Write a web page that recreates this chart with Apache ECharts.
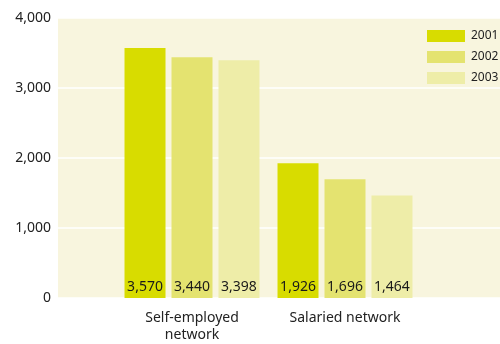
<!DOCTYPE html>
<html>
<head>
<meta charset="utf-8">
<script src="https://cdn.jsdelivr.net/npm/echarts@6/dist/echarts.min.js"></script>
<style>
  html, body { margin: 0; padding: 0; background: #ffffff; }
  #chart { width: 500px; height: 344px; }
</style>
</head>
<body>
<div id="chart"></div>
<script>
// Network members by type, 2001–2003
const categories = ['Self-employed\nnetwork', 'Salaried network'];
const years = ['2001', '2002', '2003'];
const values2001 = [3570, 1926];
const values2002 = [3440, 1696];
const values2003 = [3398, 1464];
const yTicks = [0, 1000, 2000, 3000, 4000];

const colors = ['#d8dc00', '#e4e370', '#eeeda8'];
const font = '"Noto Sans", sans-serif';
const fmt = v => v.toLocaleString('en-US');

const chart = echarts.init(document.getElementById('chart'), null, { renderer: 'canvas' });

const seriesData = [values2001, values2002, values2003];

chart.setOption({
  animation: false,
  textStyle: { fontFamily: font },
  legend: {
    data: years,
    left: 427,
    top: 30,
    padding: 0,
    orient: 'vertical',
    itemWidth: 38,
    itemHeight: 12,
    itemGap: 9,
    icon: 'rect',
    textStyle: { fontSize: 12, color: '#222', fontFamily: font, padding: [0, 0, 0, 1], overflow: 'none' }
  },
  grid: [
    { left: 58, right: 0, top: 18, bottom: 46, show: true, backgroundColor: '#f8f5de', borderWidth: 0 },
    { left: 115.5, right: 78.5, top: 18, bottom: 46 }
  ],
  xAxis: [
    { gridIndex: 0, type: 'value', show: false, min: 0, max: 1 },
    {
      gridIndex: 1, type: 'category', data: categories,
      axisLine: { show: false }, axisTick: { show: false },
      axisLabel: { fontSize: 14, color: '#222', fontFamily: font, margin: 12, lineHeight: 17 }
    }
  ],
  yAxis: [
    {
      gridIndex: 0, type: 'value', min: yTicks[0], max: yTicks[yTicks.length - 1], interval: 1000,
      axisLine: { show: false }, axisTick: { show: false },
      axisLabel: { fontSize: 14, color: '#222', fontFamily: font, margin: 7, formatter: v => fmt(v) },
      splitLine: { show: true, lineStyle: { color: '#ffffff', width: 1.5 } }
    },
    { gridIndex: 1, type: 'value', min: 0, max: 4000, show: false, splitLine: { show: false } }
  ],
  series: years.map((y, i) => ({
    name: y,
    type: 'bar',
    xAxisIndex: 1,
    yAxisIndex: 1,
    data: seriesData[i],
    barWidth: 41,
    barGap: '14.6%',
    itemStyle: { color: colors[i] },
    label: {
      show: true,
      position: 'insideBottom',
      distance: 4,
      fontSize: 14,
      color: '#1a1a1a',
      fontFamily: font,
      formatter: p => fmt(p.value)
    }
  }))
});
</script>
</body>
</html>
